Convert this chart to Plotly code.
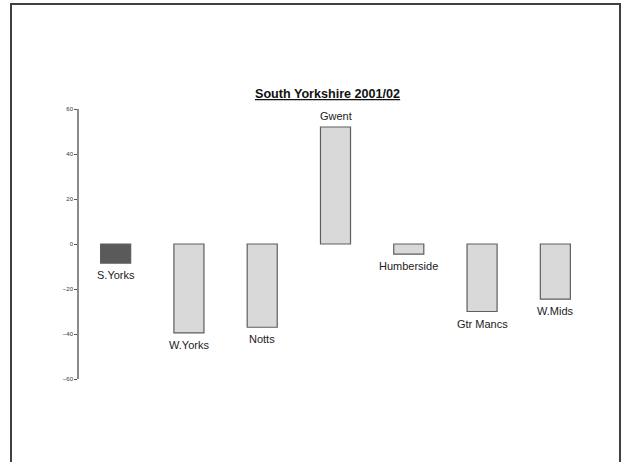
import plotly.graph_objects as go

categories = ["S.Yorks", "W.Yorks", "Notts", "Gwent", "Humberside", "Gtr Mancs", "W.Mids"]
values = [-8.5, -39.5, -37, 52, -4.5, -30, -24.5]
colors = ["#5a5a5a", "#d9d9d9", "#d9d9d9", "#d9d9d9", "#d9d9d9", "#d9d9d9", "#d9d9d9"]
tick_vals = [-60, -40, -20, 0, 20, 40, 60]

W, H = 627, 462
L, R, T, B = 79, 35, 109, 83
pw, ph = W - L - R, H - T - B

fig = go.Figure(go.Bar(
    x=categories, y=values,
    marker=dict(color=colors, line=dict(color="#5e5e5e", width=1.2)),
    width=0.41,
    cliponaxis=False,
))

label_font = dict(family="Liberation Sans, Arial", size=11, color="#222")
annotations = []
for c, v in zip(categories, values):
    neg = v < 0
    annotations.append(dict(
        x=c, y=v, xref="x", yref="y", text=c, showarrow=False,
        xanchor="center", yanchor="top" if neg else "bottom",
        yshift=-4 if neg else 3, font=label_font,
    ))

annotations.append(dict(
    text="<b><u>South Yorkshire 2001/02</u></b>",
    xref="paper", yref="paper",
    x=(327 - L) / pw, y=(H - B - 94) / ph,
    xanchor="center", yanchor="middle", showarrow=False,
    font=dict(family="Liberation Sans, Arial", size=12.6, color="#111"),
))

fig.update_layout(
    width=W, height=H,
    margin=dict(l=L, r=R, t=T, b=B),
    paper_bgcolor="white", plot_bgcolor="white",
    showlegend=False,
    xaxis=dict(visible=False, range=[-0.5, 6.5]),
    yaxis=dict(range=[-60, 60], tickvals=tick_vals, showgrid=False, zeroline=False,
               showline=True, linecolor="#8a8a8a", linewidth=1.5,
               ticks="outside", ticklen=3, tickcolor="#555",
               tickfont=dict(family="Liberation Sans, Arial", size=6, color="#333")),
    annotations=annotations,
    shapes=[dict(
        type="rect", xref="paper", yref="paper",
        x0=(11 - L) / pw, x1=(620 - L) / pw,
        y0=(H - B - 475) / ph, y1=(H - B - 4) / ph,
        line=dict(color="#404040", width=2), fillcolor="rgba(0,0,0,0)",
    )],
)

fig.write_html(
    "out.html",
    config={"displayModeBar": False},
    post_script="document.body.style.margin='0';document.body.style.overflow='hidden';",
)
